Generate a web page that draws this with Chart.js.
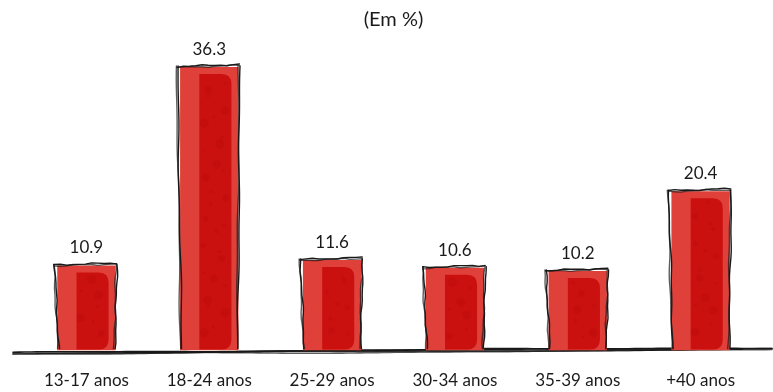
<!DOCTYPE html>
<html>
<head>
<meta charset="utf-8">
<script src="https://cdn.jsdelivr.net/npm/chart.js@4/dist/chart.umd.min.js"></script>
<style>
  html, body { margin: 0; padding: 0; background: #ffffff; }
  #wrap { width: 773px; height: 392px; }
</style>
</head>
<body>
<div id="wrap"><canvas id="c" width="773" height="392"></canvas></div>
<script>
// Faixas etárias e percentuais
const categories = ['13-17 anos', '18-24 anos', '25-29 anos', '30-34 anos', '35-39 anos', '+40 anos'];
const values = [10.9, 36.3, 11.6, 10.6, 10.2, 20.4];
const titleText = '(Em %)';

const FONT = 'Lato, "Open Sans", sans-serif';
const OUTER = '#e0403a';
const INNER = '#cb1010';
const INK = '#1a1a1a';

// hand-drawn stroke: a few passes with a gentle deterministic wobble
function sketchLine(ctx, x1, y1, x2, y2, seed, passes, width) {
  const len = Math.hypot(x2 - x1, y2 - y1);
  const nx = -(y2 - y1) / len, ny = (x2 - x1) / len;
  const steps = Math.max(4, Math.round(len / 6));
  for (let p = 0; p < passes; p++) {
    ctx.beginPath();
    const off = (p - (passes - 1) / 2) * 0.9;
    for (let i = 0; i <= steps; i++) {
      const t = i / steps;
      const w = Math.sin(t * 9.1 + seed * 1.7 + p * 2.3) * 0.6 + Math.sin(t * 23 + seed + p) * 0.35;
      const x = x1 + (x2 - x1) * t + nx * (w + off);
      const y = y1 + (y2 - y1) * t + ny * (w + off);
      if (i === 0) ctx.moveTo(x, y); else ctx.lineTo(x, y);
    }
    ctx.strokeStyle = INK;
    ctx.globalAlpha = p === 0 ? 1 : 0.7;
    ctx.lineWidth = width;
    ctx.stroke();
  }
  ctx.globalAlpha = 1;
}

function roundRightRect(ctx, x, y, w, h, r) {
  r = Math.min(r, w / 2, h / 2);
  ctx.beginPath();
  ctx.moveTo(x, y);
  ctx.lineTo(x + w - r, y);
  ctx.quadraticCurveTo(x + w, y, x + w, y + r);
  ctx.lineTo(x + w, y + h - r);
  ctx.quadraticCurveTo(x + w, y + h, x + w - r, y + h);
  ctx.lineTo(x, y + h);
  ctx.closePath();
}

const sketchPlugin = {
  id: 'sketch',
  beforeDatasetsDraw(chart) {
    const { ctx, chartArea } = chart;
    const yb = chart.scales.y.getPixelForValue(0);
    ctx.save();
    ctx.lineCap = 'round';
    // ground line
    sketchLine(ctx, 13, yb + 3, chartArea.right + 10, yb - 2, 3, 3, 1.6);
    sketchLine(ctx, 36, yb + 1.5, chartArea.right - 20, yb - 1, 7, 2, 1.2);
    ctx.restore();
  },
  afterDatasetsDraw(chart) {
    const { ctx } = chart;
    const meta = chart.getDatasetMeta(0);
    ctx.save();
    meta.data.forEach((bar, i) => {
      const p = bar.getProps(['x', 'y', 'base', 'width'], true);
      const left = p.x - p.width / 2, right = p.x + p.width / 2;
      const top = p.y, bottom = p.base;
      // darker inner panel, rounded on the right
      const ix = left + p.width * 0.33;
      const iw = p.width * 0.55;
      ctx.fillStyle = INNER;
      roundRightRect(ctx, ix, top + 7, iw, bottom - top - 8, 10);
      ctx.fill();
      // speckles inside the panel
      ctx.fillStyle = 'rgba(160,0,0,0.16)';
      const n = Math.floor((bottom - top - 16) / 9);
      for (let k = 0; k < n; k++) {
        const cx = ix + 4 + (iw - 10) * ((Math.sin(k * 4.37 + i * 1.3) + 1) / 2);
        const cy = top + 14 + k * 9 + 3 * Math.sin(k * 2.1 + i);
        const r = 1.5 + 3 * ((Math.cos(k * 3.3 + i * 2.1) + 1) / 2) ** 2;
        ctx.beginPath(); ctx.arc(cx, cy, r, 0, Math.PI * 2); ctx.fill();
      }
      // outline
      ctx.lineCap = 'round';
      sketchLine(ctx, left - 3, top - 1, left + 1, bottom - 2, i * 5 + 1, 2, 1.4);
      sketchLine(ctx, right + 1, top - 1, right - 1, bottom - 2, i * 5 + 2, 2, 1.4);
      sketchLine(ctx, left - 3, top, right + 1, top - 2, i * 5 + 3, 2, 1.4);
      // value label
      ctx.fillStyle = '#1a1a1a';
      ctx.font = '17px ' + FONT;
      ctx.textAlign = 'center';
      ctx.textBaseline = 'alphabetic';
      ctx.fillText(values[i].toFixed(1), p.x, top - 12);
    });
    ctx.restore();
  }
};

new Chart(document.getElementById('c'), {
  type: 'bar',
  data: {
    labels: categories,
    datasets: [{
      data: values,
      backgroundColor: OUTER,
      borderWidth: 0,
      barPercentage: 0.475,
      categoryPercentage: 1
    }]
  },
  options: {
    responsive: false,
    animation: false,
    devicePixelRatio: 1,
    layout: { padding: { left: 25, right: 11, top: 0, bottom: -19 } },
    plugins: {
      legend: { display: false },
      tooltip: { enabled: false },
      title: {
        display: true,
        text: titleText,
        color: '#1a1a1a',
        font: { family: FONT, size: 20, weight: 'normal' },
        padding: { top: 8, bottom: 6 }
      }
    },
    scales: {
      x: {
        grid: { display: false, drawTicks: false },
        border: { display: false },
        ticks: {
          color: '#1a1a1a',
          font: { family: FONT, size: 17 },
          padding: 20,
          maxRotation: 0
        }
      },
      y: {
        display: false,
        min: 0,
        max: 40
      }
    }
  },
  plugins: [sketchPlugin]
});
</script>
</body>
</html>
